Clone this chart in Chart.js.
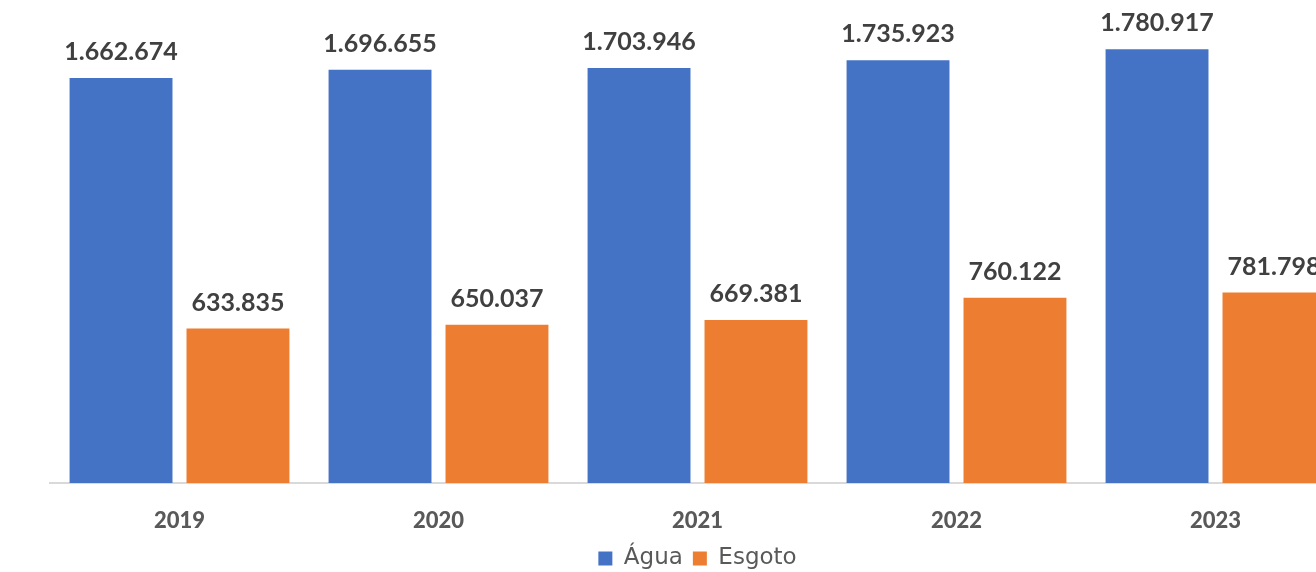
<!DOCTYPE html>
<html>
<head>
<meta charset="utf-8">
<script src="https://cdn.jsdelivr.net/npm/chart.js@4/dist/chart.umd.min.js"></script>
<style>
    html, body { margin: 0; padding: 0; background: #fff; overflow: hidden; }
    #wrap { width: 1316px; height: 572px; overflow: hidden; }
</style>
</head>
<body>
<div id="wrap"><canvas id="bar-chart" width="1395" height="580"></canvas></div>
<script>
const anos = ['2019', '2020', '2021', '2022', '2023'];
const agua = [1662674, 1696655, 1703946, 1735923, 1780917];
const esgoto = [633835, 650037, 669381, 760122, 781798];

const formatBR = (v) => v.toLocaleString('pt-BR');

// rótulos de valor acima de cada barra
const valueLabels = {
    id: 'valueLabels',
    afterDatasetsDraw(chart) {
        const ctx = chart.ctx;
        ctx.save();
        ctx.font = 'bold 25px Lato';
        ctx.fillStyle = '#404040';
        ctx.textAlign = 'center';
        ctx.textBaseline = 'alphabetic';
        chart.data.datasets.forEach((ds, i) => {
            chart.getDatasetMeta(i).data.forEach((bar, j) => {
                ctx.fillText(formatBR(ds.data[j]), bar.x, bar.y - 18);
            });
        });
        ctx.restore();
    }
};

const ctx = document.getElementById('bar-chart').getContext('2d');
const chart = new Chart(ctx, {
    type: 'bar',
    data: {
        labels: anos,
        datasets: [{
            label: 'Água',
            data: agua,
            backgroundColor: '#4472C4',
            categoryPercentage: 0.903,
            barPercentage: 0.88
        }, {
            label: 'Esgoto',
            data: esgoto,
            backgroundColor: '#ED7D31',
            categoryPercentage: 0.903,
            barPercentage: 0.88
        }]
    },
    options: {
        responsive: false,
        animation: false,
        layout: {
            padding: { left: 50, right: 50, top: 0, bottom: 0 }
        },
        scales: {
            y: {
                display: false,
                min: 0,
                max: 1983000
            },
            x: {
                grid: { display: false },
                border: { display: true, color: '#d9d9d9', width: 2 },
                ticks: {
                    color: '#595959',
                    font: { family: 'Lato', weight: 900, size: 22 },
                    padding: 17
                },
                afterFit(scale) {
                    scale.height = 54;
                }
            }
        },
        plugins: {
            legend: {
                position: 'bottom',
                labels: {
                    color: '#595959',
                    font: { family: 'DejaVu Sans', size: 23 },
                    boxWidth: 14,
                    boxHeight: 14,
                    padding: 10
                }
            },
            tooltip: { enabled: false }
        }
    },
    plugins: [valueLabels]
});
</script>
</body>
</html>
